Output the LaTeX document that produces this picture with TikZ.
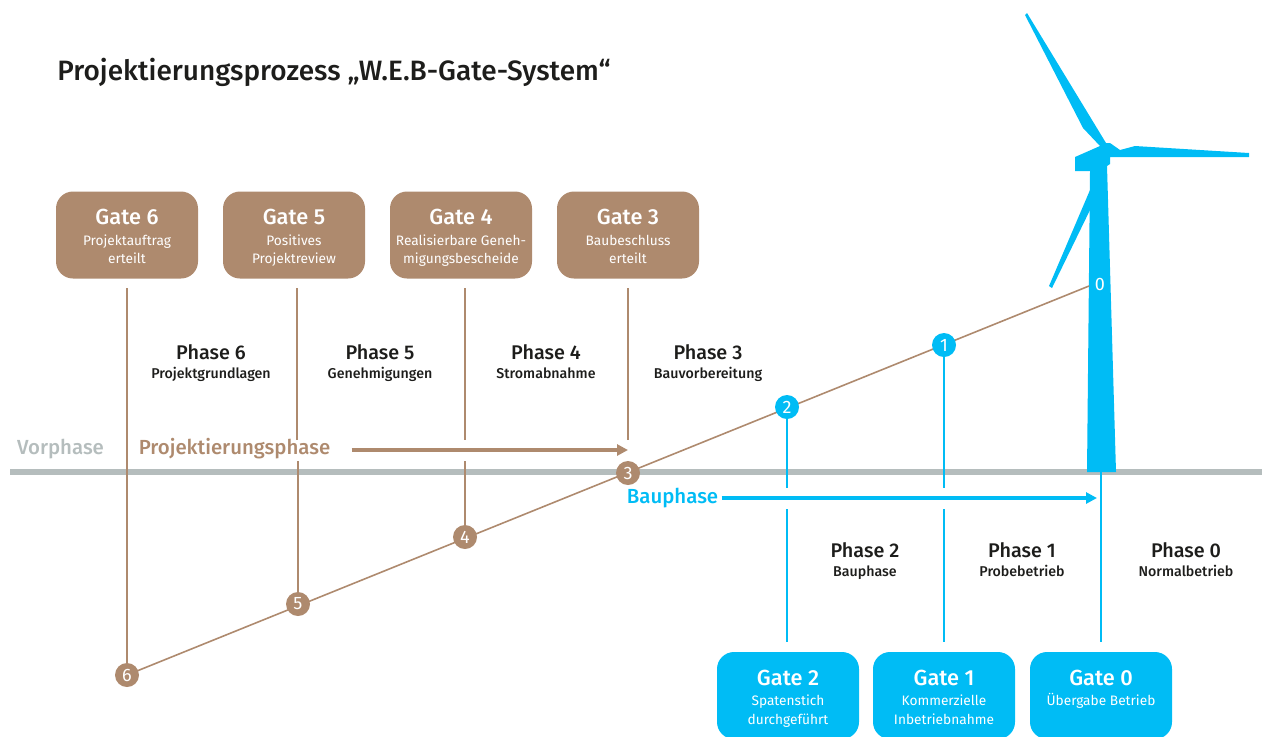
\documentclass[tikz,border=0pt]{standalone}
\usepackage{fontspec}
\setmainfont{Fira Sans}[Ligatures = NoCommon, BoldFont = {Fira Sans Medium}]
\usetikzlibrary{arrows.meta}
\definecolor{webbrown}{HTML}{AE8A6E}
\definecolor{webblue}{HTML}{00BCF5}
\definecolor{webgrey}{HTML}{B5BDBD}
\definecolor{webtext}{HTML}{1D1D1B}
\tikzset{
	gatebox/.style = {fill = #1, rounded corners = 8.5pt, minimum width = 71pt, minimum height = 43.5pt, inner sep = 0pt,
		text = white, align = center, font = \fontsize{6.85}{9.3}\selectfont},
	dot/.style = {circle, fill = #1, minimum size = 12pt, inner sep = 0pt, text = white, font = \fontsize{9}{10}\selectfont},
	phaselabel/.style = {align = center, text = webtext, inner sep = 0pt, font = \fontsize{7.1}{10}\bfseries\selectfont},
	gateline/.style = {line width = 0.7pt, #1},
	phasearrow/.style = {line width = 2pt, #1, -{Triangle[length = 5.5pt, width = 5.5pt]}},
	phasename/.style = {inner sep = 0pt, font = \fontsize{10.2}{12}\bfseries\selectfont}
}
\newcommand{\phasetitle}[1]{{\fontsize{9.9}{11}\selectfont #1}}
\newcommand{\gatetitle}[1]{\rule{0pt}{12pt}{\fontsize{10.9}{11}\bfseries\selectfont #1}}
\begin{document}
\begin{tikzpicture}[x = 0.5pt, y = -0.5pt]
\clip (0,0) rectangle (1262,736);

\node[anchor = west, inner sep = 0pt, text = webtext, font = \fontsize{14}{16}\bfseries\selectfont] (title) at (57,72) {Projektierungsprozess „W.E.B-Gate-System“};

\coordinate (groundleft) at (10,472);
\coordinate (groundright) at (1262,472);
\draw[webgrey, line width = 3pt] (groundleft) -- (groundright);

\fill[webblue] (1087,472) -- (1090,171) -- (1075,171) -- (1075,157) -- (1100,146) -- (1083,128) -- (1025,15) -- (1027,13)
	-- (1106,143) -- (1110,143) -- (1120,150) -- (1135,146) -- (1249,153) -- (1249,157) -- (1110,157) -- (1110,164) -- (1107,166)
	-- (1116,472) -- cycle;
\fill[webblue] (1090,190) -- (1090,210) -- (1052,288) -- (1049,286) -- cycle;

\foreach \i/\cx/\col/\subtext in {6/127/webbrown/{Projektauftrag\\erteilt}, 5/294/webbrown/{Positives\\Projektreview},
	4/461/webbrown/{Realisierbare Geneh-\\migungsbescheide}, 3/628/webbrown/{Baubeschluss\\erteilt}}
	\node[gatebox = \col] (gate\i) at (\cx,235) {\gatetitle{Gate \i}\\[1pt] \subtext\strut};
\foreach \i/\cx/\col/\subtext in {2/788/webblue/{Spatenstich\\durchgeführt}, 1/944/webblue/{Kommerzielle\\Inbetriebnahme},
	0/1101/webblue/{Übergabe Betrieb\\\mbox{}}}
	\node[gatebox = \col] (gate\i) at (\cx,695.5) {\gatetitle{Gate \i}\\[1pt] \subtext\strut};

\coordinate (dot0) at (1089,286);
\draw[webbrown, line width = 0.8pt] (127,675) -- (dot0);
\node[text = white, inner sep = 0pt, font = \fontsize{9}{10}\selectfont] (zero) at (1100,284) {0};

\foreach \i/\cx/\cy/\col in {6/127/675/webbrown, 5/298/604/webbrown, 4/465/537/webbrown, 3/628/473/webbrown, 2/787/407/webblue, 1/944/345/webblue}
	\node[dot = \col] (dot\i) at (\cx,\cy) {\i};

\coordinate (top6) at (127,288);
\coordinate (top5) at (297,288);
\coordinate (top4) at (465,288);
\coordinate (top3) at (628,288);
\coordinate (cut5) at (297,440);
\coordinate (cut4) at (465,440);
\coordinate (cut3) at (628,440);
\coordinate (rest5) at (298,461);
\coordinate (rest4) at (465,461);
\draw[gateline = webbrown] (top6) -- (dot6);
\draw[gateline = webbrown] (top5) -- (cut5);
\draw[gateline = webbrown] (rest5) -- (dot5);
\draw[gateline = webbrown] (top4) -- (cut4);
\draw[gateline = webbrown] (rest4) -- (dot4);
\draw[gateline = webbrown] (top3) -- (cut3);

\coordinate (cut2) at (787,488);
\coordinate (cut1) at (944,488);
\coordinate (rest2) at (787,509);
\coordinate (rest1) at (944,509);
\coordinate (low2) at (787,642);
\coordinate (low1) at (944,642);
\coordinate (low0) at (1101,642);
\coordinate (foot) at (1101,472);
\draw[gateline = webblue] (dot2) -- (cut2);
\draw[gateline = webblue] (rest2) -- (low2);
\draw[gateline = webblue] (dot1) -- (cut1);
\draw[gateline = webblue] (rest1) -- (low1);
\draw[gateline = webblue] (foot) -- (low0);

\node[phasename, text = webgrey] (vorphase) at (60.5,449) {Vorphase};
\node[phasename, text = webbrown] (projphase) at (234.5,449) {Projektierungsphase};
\node[phasename, text = webblue] (bauphase) at (672.5,498) {Bauphase};
\coordinate (projend) at (628,450);
\coordinate (bauend) at (1097,498);
\draw[phasearrow = webbrown, shorten <= 10.5pt] (projphase.east |- projend) -- (projend);
\draw[phasearrow = webblue, shorten <= 1.5pt] (bauphase.east |- bauend) -- (bauend);

\foreach \i/\cx/\cy/\subtext in {6/211/365/Projektgrundlagen, 5/380/365/Genehmigungen, 4/546/365/Stromabnahme, 3/708/365/Bauvorbereitung,
	2/865/563/Bauphase, 1/1022/563/Probebetrieb, 0/1186/563/Normalbetrieb}
	\node[phaselabel] (phase\i) at (\cx,\cy) {\phasetitle{Phase \i}\\[-0.5pt] \subtext\strut};
\end{tikzpicture}
\end{document}
